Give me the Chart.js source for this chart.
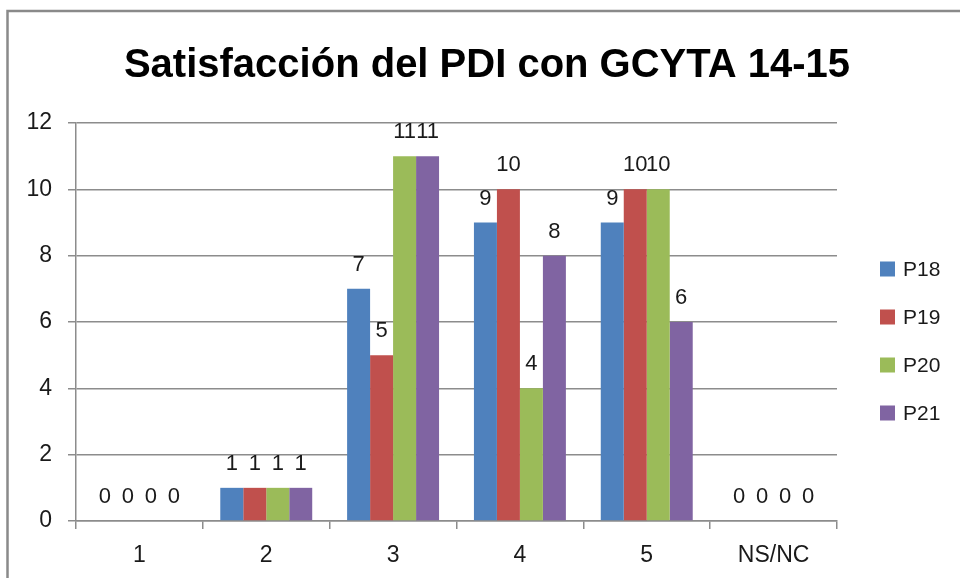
<!DOCTYPE html>
<html>
<head>
<meta charset="utf-8">
<script src="https://cdn.jsdelivr.net/npm/chart.js@4"></script>
<style>
  html, body { margin: 0; padding: 0; background: #ffffff; }
  #wrap { width: 960px; height: 578px; position: relative; }
</style>
</head>
<body>
<div id="wrap"><canvas id="chart" width="960" height="578"></canvas></div>
<script>
// Survey answers per question, grouped by score
const categories = ['1', '2', '3', '4', '5', 'NS/NC'];
const seriesNames = ['P18', 'P19', 'P20', 'P21'];
const p18 = [0, 1, 7, 9, 9, 0];
const p19 = [0, 1, 5, 10, 10, 0];
const p20 = [0, 1, 11, 4, 10, 0];
const p21 = [0, 1, 11, 8, 6, 0];
const yTicks = [0, 2, 4, 6, 8, 10, 12];
const titleText = 'Satisfacción del PDI con GCYTA 14-15';

const colors = ['#4F81BD', '#C0504D', '#9BBB59', '#8064A2'];
const seriesValues = [p18, p19, p20, p21];
const FONT = "'Liberation Sans', Arial, sans-serif";
const GRID = '#8c8c8c';
const TEXT = '#1a1a1a';

// Outer frame of the chart object
const framePlugin = {
  id: 'frame',
  beforeDraw(chart) {
    const ctx = chart.ctx;
    ctx.save();
    ctx.fillStyle = '#ffffff';
    ctx.fillRect(0, 0, chart.width, chart.height);
    ctx.strokeStyle = '#8a8a8a';
    ctx.lineWidth = 2.5;
    ctx.beginPath();
    ctx.moveTo(7.5, chart.height + 5);
    ctx.lineTo(7.5, 11);
    ctx.lineTo(chart.width + 5, 11);
    ctx.stroke();
    ctx.restore();
  }
};

// Big centered heading
const headingPlugin = {
  id: 'heading',
  afterDraw(chart) {
    const ctx = chart.ctx;
    ctx.save();
    ctx.font = 'bold 40px ' + FONT;
    ctx.fillStyle = '#000000';
    ctx.textAlign = 'center';
    ctx.textBaseline = 'alphabetic';
    ctx.fillText(titleText, 487, 77);
    ctx.restore();
  }
};

// Value written above every bar
const valueLabelPlugin = {
  id: 'valueLabels',
  afterDatasetsDraw(chart) {
    const ctx = chart.ctx;
    ctx.save();
    ctx.font = '22px ' + FONT;
    ctx.fillStyle = TEXT;
    ctx.textAlign = 'center';
    ctx.textBaseline = 'alphabetic';
    chart.data.datasets.forEach((ds, i) => {
      const meta = chart.getDatasetMeta(i);
      meta.data.forEach((bar, j) => {
        ctx.fillText(String(ds.data[j]), bar.x, bar.y - 18);
      });
    });
    ctx.restore();
  }
};

// Legend column on the right side
const sideLegendPlugin = {
  id: 'sideLegend',
  afterDraw(chart) {
    const ctx = chart.ctx;
    ctx.save();
    ctx.font = '21px ' + FONT;
    ctx.textBaseline = 'middle';
    ctx.textAlign = 'left';
    chart.data.datasets.forEach((ds, i) => {
      const cy = 269 + i * 48;
      ctx.fillStyle = ds.backgroundColor;
      ctx.fillRect(880, cy - 7.5, 15, 15);
      ctx.fillStyle = TEXT;
      ctx.fillText(ds.label, 903, cy + 1);
    });
    ctx.restore();
  }
};

const datasets = seriesNames.map((name, i) => ({
  label: name,
  data: seriesValues[i],
  backgroundColor: colors[i],
  borderWidth: 0,
  barPercentage: 1,
  categoryPercentage: 0.725
}));

new Chart(document.getElementById('chart'), {
  type: 'bar',
  data: { labels: categories, datasets },
  plugins: [framePlugin, headingPlugin, valueLabelPlugin, sideLegendPlugin],
  options: {
    responsive: false,
    animation: false,
    layout: { padding: { top: 123, right: 123, bottom: 0, left: 0 } },
    plugins: {
      legend: { display: false },
      title: { display: false },
      tooltip: { enabled: false }
    },
    scales: {
      x: {
        grid: {
          offset: true,
          drawOnChartArea: false,
          drawTicks: true,
          tickLength: 8,
          color: GRID,
          lineWidth: 1.5
        },
        border: { display: true, color: GRID, width: 1.5 },
        ticks: { color: TEXT, font: { family: FONT, size: 23 }, padding: 13 },
        afterFit(scale) { scale.height = 57; }
      },
      y: {
        min: 0,
        max: 12,
        afterBuildTicks(scale) { scale.ticks = yTicks.map(v => ({ value: v })); },
        grid: {
          color: GRID,
          lineWidth: 1.5,
          tickLength: 8
        },
        border: { display: true, color: GRID, width: 1.5 },
        ticks: { color: TEXT, font: { family: FONT, size: 23 }, padding: 16 },
        afterFit(scale) { scale.width = 76; }
      }
    }
  }
});
</script>
</body>
</html>
